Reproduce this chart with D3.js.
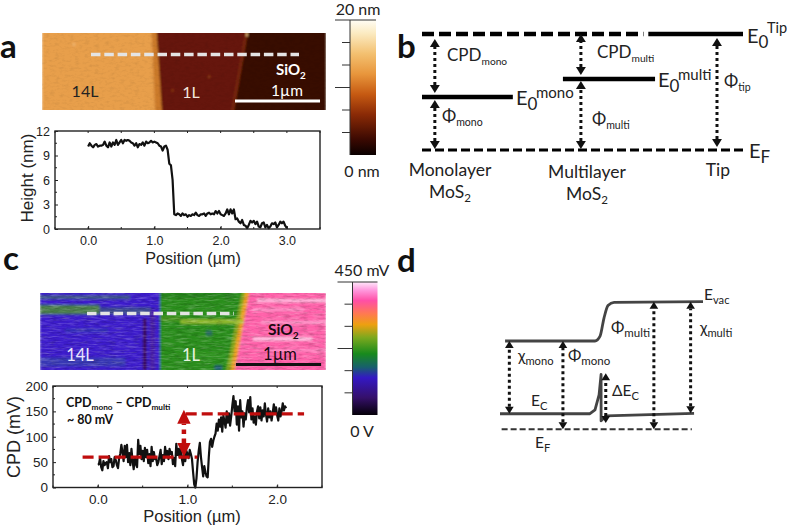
<!DOCTYPE html>
<html>
<head>
<meta charset="utf-8">
<script src="https://cdn.jsdelivr.net/npm/d3@7"></script>
<style>
  html, body { margin: 0; padding: 0; background: #fff; }
  svg { display: block; }
  text { fill: #222; }
</style>
</head>
<body>
<div id="chart"></div>
<script>
// height profile, panel a (nm), 0 to 3 um
const heightValues = [10.1,10.5,10.2,10.0,10.3,10.4,10.1,10.2,10.2,10.3,10.7,10.2,10.0,10.6,10.1,10.6,10.3,10.9,10.3,10.6,
  10.9,10.5,10.9,10.8,10.9,10.8,10.6,10.5,10.2,10.5,10.0,10.4,10.3,10.6,10.2,10.7,10.5,10.6,10.8,10.6,
  10.7,10.6,10.5,10.2,10.1,9.6,10.1,10.2,9.7,8.0,7.8,6.0,
  1.8,1.7,1.9,1.8,1.6,1.9,1.7,1.8,1.5,1.7,1.6,1.8,1.7,2.0,1.7,1.6,1.8,1.8,1.9,1.6,
  1.9,2.0,1.8,1.9,1.8,2.2,1.9,2.2,1.8,1.7,1.6,1.9,2.4,1.8,2.4,1.9,2.4,
  1.2,1.3,0.9,0.7,1.1,0.5,0.4,0.1,0.5,1.0,0.8,1.0,0.6,0.9,0.3,0.2,0.7,0.8,0.2,0.5,
  0.1,0.3,0.7,0.6,0.8,0.2,0.5,0.9,0.7,0.9,0.4,0.1];

// CPD profile, panel c (mV), 0 to 2.1 um
const cpdValues = [45,46,58,40,34,52,44,48,50,38,62,50,56,40,42,60,54,44,38,58,
  66,84,70,52,82,60,84,50,68,44,76,52,36,60,46,40,94,66,82,56,
  72,52,78,60,74,48,66,42,80,52,70,56,58,44,50,62,74,46,64,52,
  80,62,72,56,76,66,70,46,58,42,86,64,76,60,78,56,44,68,52,72,
  66,58,74,66,56,30,6,0,18,50,72,88,60,40,22,42,30,22,20,60,
  90,96,80,92,100,106,126,112,134,120,138,110,142,130,118,150,128,146,122,140,
  162,180,150,170,124,160,112,172,138,150,120,146,134,158,172,148,178,134,156,128,
  140,124,150,160,136,158,132,152,140,166,144,130,156,138,150,132,146,164,148,158,
  142,132,156,140,150,166,152,160,156];

const heightTicks = [0, 3, 6, 9, 12];
const cpdTicks = [0, 50, 100, 150, 200];
const positionTicksA = [0, 1, 2, 3];
const positionTicksC = [0, 1, 2];

// red guide lines of panel c: [from um, to um, mV]
const cpdGuides = [[-0.17, 1.11, 60], [0.98, 2.3, 145]];
const cpdArrow = { at: 0.96, from: 60, to: 153 };

// colour bars, bottom to top
const heightStops = [[0, "#0a0000"], [0.12, "#3d0a02"], [0.3, "#8a2a06"], [0.45, "#c65a12"], [0.6, "#e8963c"], [0.75, "#f3c070"], [0.9, "#fbeac0"], [1, "#fffdf5"]];
const cpdStops = [[0, "#050008"], [0.13, "#35106a"], [0.28, "#3418c4"], [0.36, "#17606c"], [0.46, "#178a1c"], [0.58, "#7aa81e"], [0.68, "#eda010"], [0.76, "#ff7a50"], [0.86, "#ff4fa6"], [0.94, "#ff9ade"], [1, "#ffe8fb"]];
const barTickFractions = [0, 1/6, 2/6, 3/6, 4/6, 5/6, 1];

// map regions in um from the map's top left corner: [left top, left bottom, right top, right bottom, colour]
const mapARegions = [
  [0, 0, 3.34, 3.34, "#e89f4c"],
  [1.29, 1.33, 3.34, 3.34, "#cb7a2c"],
  [1.35, 1.41, 3.34, 3.34, "#661808"],
  [2.39, 2.23, 3.34, 3.34, "#7c2a0c"],
  [2.42, 2.26, 3.34, 3.34, "#380802"]
];
const mapCRegions = [
  [0, 0, 3.36, 3.36, "#3c1ecc"],
  [1.41, 1.41, 3.36, 3.36, "#2c8e1c"],
  [2.37, 2.19, 3.36, 3.36, "#8aa81c"],
  [2.41, 2.24, 3.36, 3.36, "#f0a028"],
  [2.46, 2.29, 3.36, 3.36, "#ff62aa"]
];
// streaks and specks: [x0, x1, y0, y1, colour, opacity] in um
const mapAStreaks = [
  [2.4, 2.42, 0.0, 0.04, "#ffd890", 0.95],
  [0.36, 0.39, 0.12, 0.15, "#f4c080", 0.8],
  [1.95, 1.98, 0.5, 0.53, "#a04a20", 0.7],
  [1.52, 1.55, 0.66, 0.69, "#a04a20", 0.6]
];
const mapCStreaks = [
  [0, 1.06, 0.03, 0.07, "#3f8a46", 0.55],
  [0, 0.7, 0.14, 0.25, "#4c8e30", 0.85],
  [0.7, 1.3, 0.17, 0.25, "#3f7a58", 0.5],
  [0, 1.0, 0.76, 0.86, "#2e6a8a", 0.35],
  [0.3, 0.8, 0.42, 0.46, "#2a4aa0", 0.4],
  [1.21, 1.25, 0.3, 0.91, "#3c0a4a", 0.9],
  [1.29, 1.35, 0.2, 0.91, "#4a1a8a", 0.6],
  [1.65, 2.39, 0.31, 0.36, "#a8c434", 0.85],
  [1.41, 2.3, 0.0, 0.06, "#24781e", 0.5],
  [1.41, 1.65, 0.28, 0.33, "#6aa428", 0.5],
  [1.95, 2.02, 0.44, 0.5, "#2a50a0", 0.55],
  [1.6, 2.2, 0.7, 0.76, "#3aa02a", 0.5],
  [2.05, 2.14, 0.85, 0.91, "#2040b0", 0.6],
  [2.55, 3.36, 0.07, 0.11, "#ffd6ee", 0.7],
  [2.5, 3.1, 0.18, 0.21, "#ffb8e0", 0.6],
  [2.6, 3.36, 0.33, 0.36, "#ffc8e8", 0.6],
  [2.5, 3.2, 0.52, 0.56, "#ffe0f4", 0.75],
  [2.7, 3.36, 0.66, 0.69, "#ffb0dc", 0.5]
];

// energy diagrams: positions are fractions of the panel width, e is 0 at EF, 1 at the top level
const levelsB = [
  { x0: 0, x1: 0.69, e: 1, w: 4.5, dash: "12,5" },
  { x0: 0.705, x1: 1, e: 1, w: 4.5 },
  { x0: 0, x1: 1, e: 0, w: 3.2, dash: "9,4" },
  { x0: 0, x1: 0.283, e: 0.457, w: 4.5 },
  { x0: 0.439, x1: 0.726, e: 0.612, w: 4.5 }
];
const arrowsB = [[0.04, 0.491, 0.957], [0.04, 0.009, 0.431], [0.495, 0.647, 1], [0.495, 0.009, 0.595], [0.919, 0.026, 0.966]];

const vacuumCurve = [[0.025, 0.692], [0.468, 0.692], [0.493, 0.73], [0.512, 0.87], [0.532, 0.97], [0.562, 0.995], [1, 1]];
const conductionCurve = [[0, 0.122], [0.443, 0.122], [0.468, 0.152], [0.488, 0.27], [0.498, 0.43], [0.498, 0.066], [0.522, 0.105], [0.956, 0.125]];
const fermiLevelD = [[0.008, 0], [0.945, 0]];
const arrowsD = [[0.046, 0.122, 0.692], [0.31, 0, 0.692], [0.758, 0, 1], [0.939, 0.125, 1], [0.521, 0.05, 0.44]];

const W = 787, H = 526;
const sansFont = "Lato, 'Noto Sans', sans-serif";
const axisFont = "'Liberation Sans', Arial, sans-serif";

const svg = d3.select("#chart").append("svg").attr("width", W).attr("height", H);
const defs = svg.append("defs");

defs.append("filter").attr("id", "soft").attr("x", "-2%").attr("y", "-2%").attr("width", "104%").attr("height", "104%")
  .append("feGaussianBlur").attr("stdDeviation", 0.9);

// grainy streak overlay for the maps, c is 1 for white grain and 0 for black
function grainFilter(id, freq, alpha, c, seed) {
  const f = defs.append("filter").attr("id", id).attr("x", 0).attr("y", 0).attr("width", "100%").attr("height", "100%");
  f.append("feTurbulence").attr("type", "fractalNoise").attr("baseFrequency", freq).attr("numOctaves", 3).attr("seed", seed);
  f.append("feColorMatrix").attr("values", `0 0 0 0 ${c}  0 0 0 0 ${c}  0 0 0 0 ${c}  ${alpha} 0 0 0 ${-alpha * 0.45}`);
  f.append("feGaussianBlur").attr("stdDeviation", 0.5);
}
grainFilter("grainA", "0.2 0.4", 1.4, 0, 4);
grainFilter("grainC1", "0.08 0.6", 2.2, 1, 7);
grainFilter("grainC0", "0.12 0.5", 2.2, 0, 11);

// text with sub and superscripts, parts are [string, "sub"|"sup"|undefined]
function richText(x, y, parts, size, opts = {}) {
  const t = svg.append("text").attr("x", x).attr("y", y)
    .attr("font-family", opts.font || sansFont)
    .attr("font-size", size)
    .attr("font-weight", opts.bold ? 700 : 400)
    .attr("text-anchor", opts.anchor || "start")
    .style("fill", opts.fill || "#222");
  let shift = 0;
  parts.forEach(p => {
    const s = typeof p === "string" ? [p] : p;
    const next = s[1] === "sub" ? size * 0.25 : s[1] === "sup" ? -size * 0.42 : 0;
    t.append("tspan").attr("dy", next - shift)
      .attr("font-size", s[1] === "sup" ? size * (opts.supScale || 0.85) : s[1] === "sub" ? size * (opts.subScale || 0.66) : size)
      .text(s[0]);
    shift = next;
  });
  return t;
}

function drawMap(name, box, regions, streaks, grains, span, bar, dash) {
  const x = d3.scaleLinear().domain([0, span]).range([box.x, box.x + box.w]);
  const y = d3.scaleLinear().domain([0, span]).range([box.y, box.y + box.w]);
  const id = "clip" + name;
  defs.append("clipPath").attr("id", id).append("rect")
    .attr("x", box.x).attr("y", box.y).attr("width", box.w).attr("height", box.h);
  const g = svg.append("g").attr("clip-path", `url(#${id})`);
  const inner = g.append("g").attr("filter", "url(#soft)");
  const bottom = y.invert(box.y + box.h);
  inner.selectAll("path").data(regions).enter().append("path")
    .attr("fill", d => d[4])
    .attr("d", d => {
      const at = t => d[0] + (d[1] - d[0]) * (t / bottom);
      return d3.line()([[x(at(-0.1)), y(-0.1)], [x(d[2]), y(-0.1)], [x(d[3]), y(bottom + 0.1)], [x(at(bottom + 0.1)), y(bottom + 0.1)]]) + "Z";
    });
  inner.selectAll("rect").data(streaks).enter().append("rect")
    .attr("x", d => x(d[0])).attr("width", d => x(d[1]) - x(d[0]))
    .attr("y", d => y(d[2])).attr("height", d => y(d[3]) - y(d[2]))
    .attr("fill", d => d[4]).attr("opacity", d => d[5]);
  grains.forEach(gr => {
    g.append("rect").attr("x", box.x).attr("y", box.y).attr("width", box.w).attr("height", box.h)
      .attr("filter", `url(#${gr[0]})`).attr("opacity", gr[1]);
  });
  // scale bar and profile line
  svg.append("line").attr("x1", bar.x0).attr("x2", bar.x0 + x(1) - x(0)).attr("y1", bar.y).attr("y2", bar.y)
    .attr("stroke", bar.color).attr("stroke-width", 3);
  svg.append("line").attr("x1", dash.x0).attr("x2", dash.x1).attr("y1", dash.y).attr("y2", dash.y)
    .attr("stroke", "#e4e4e4").attr("stroke-width", 3.5).attr("stroke-dasharray", "9.5,3.8");
}

function drawColorBar(id, box, stops) {
  const grad = defs.append("linearGradient").attr("id", id)
    .attr("x1", 0).attr("x2", 0).attr("y1", 1).attr("y2", 0);
  grad.selectAll("stop").data(stops).enter().append("stop")
    .attr("offset", d => d[0]).attr("stop-color", d => d[1]);
  svg.append("rect").attr("x", box.x).attr("y", box.y).attr("width", box.w).attr("height", box.h)
    .attr("fill", `url(#${id})`);
  const y = d3.scaleLinear().domain([0, 1]).range([box.y + box.h, box.y]);
  svg.append("g").selectAll("line").data(barTickFractions).enter().append("line")
    .attr("x1", d => box.x - (d === 0.5 ? 15 : d === 1 ? 15 : d === 0 ? 0 : 8))
    .attr("x2", d => d === 1 ? box.x + box.w : box.x)
    .attr("y1", d => y(d)).attr("y2", d => y(d))
    .attr("stroke", "#333").attr("stroke-width", 1);
  svg.append("line").attr("x1", box.x).attr("x2", box.x).attr("y1", box.y).attr("y2", box.y + box.h)
    .attr("stroke", "#333").attr("stroke-width", 1);
}

function drawProfile(box, xDomain, yDomain, xTicks, yTicks, values, spanUm, font, xLabel, yLabel) {
  const x = d3.scaleLinear().domain(xDomain).range([box.x, box.x + box.w]);
  const y = d3.scaleLinear().domain(yDomain).range([box.y + box.h, box.y]);
  const pos = d3.scaleLinear().domain([0, values.length - 1]).range([0, spanUm]);

  const minorX = d3.range(xDomain[0], xDomain[1] + 0.01, 0.5);
  const minorY = yTicks.slice(0, -1).map((t, i) => (t + yTicks[i + 1]) / 2);

  const g = svg.append("g");
  g.append("g").attr("transform", `translate(0,${box.y + box.h})`)
    .call(d3.axisBottom(x).tickValues(xTicks).tickSize(-3).tickPadding(7));
  g.append("g").attr("transform", `translate(${box.x},0)`)
    .call(d3.axisLeft(y).tickValues(yTicks).tickSize(-3).tickPadding(5));
  g.selectAll("text").style("font-family", axisFont).style("font-size", font + "px").style("fill", "#222");
  g.selectAll(".domain").remove();
  g.selectAll(".tick line").attr("stroke", "#222");

  g.selectAll("line.mx").data(minorX).enter().append("line").attr("class", "mx")
    .attr("x1", d => x(d)).attr("x2", d => x(d))
    .attr("y1", box.y + box.h).attr("y2", box.y + box.h - 2).attr("stroke", "#222");
  g.selectAll("line.tx").data(minorX).enter().append("line").attr("class", "tx")
    .attr("x1", d => x(d)).attr("x2", d => x(d))
    .attr("y1", box.y).attr("y2", box.y + 2).attr("stroke", "#222");
  g.selectAll("line.my").data(minorY).enter().append("line").attr("class", "my")
    .attr("x1", box.x).attr("x2", box.x + 2)
    .attr("y1", d => y(d)).attr("y2", d => y(d)).attr("stroke", "#222");

  g.append("path").datum(values).attr("fill", "none").attr("stroke", "#111").attr("stroke-width", 2.2)
    .attr("stroke-linejoin", "round")
    .attr("d", d3.line().x((d, i) => x(pos(i))).y(d => y(d)));

  g.append("rect").attr("x", box.x).attr("y", box.y).attr("width", box.w).attr("height", box.h)
    .attr("fill", "none").attr("stroke", "#222").attr("stroke-width", 1.4);

  svg.append("text").attr("x", xLabel.x).attr("y", xLabel.y).attr("text-anchor", "middle")
    .attr("font-family", axisFont).attr("font-size", xLabel.size).style("fill", "#222").text("Position (\u00b5m)");
  svg.append("text").attr("transform", `translate(${yLabel.x},${yLabel.y}) rotate(-90)`).attr("text-anchor", "middle")
    .attr("font-family", axisFont).attr("font-size", yLabel.size).style("fill", "#222").text(yLabel.text);
  return { x, y };
}

// dotted double arrow between two energies
function energyArrow(ctx, xv, e0, e1, color, w, head, ratio = 0.62) {
  const X = ctx.x(xv), Y0 = ctx.y(e0), Y1 = ctx.y(e1);
  svg.append("line").attr("x1", X).attr("x2", X).attr("y1", Y0 - head).attr("y2", Y1 + head)
    .attr("stroke", color).attr("stroke-width", w).attr("stroke-dasharray", `${w},${w}`);
  const tri = (ty, dir) => svg.append("path").attr("fill", color)
    .attr("d", d3.line()([[X, ty], [X - head * ratio, ty - dir * head], [X + head * ratio, ty - dir * head]]) + "Z");
  tri(Y0, 1);
  tri(Y1, -1);
}

/* ---------- panel a ---------- */
drawMap("A", { x: 42, y: 33, w: 284, h: 77 }, mapARegions, mapAStreaks, [["grainA", 0.1]], 3.34,
  { x0: 235, y: 101, color: "#fff" }, { x0: 91, x1: 299, y: 54.5 });
richText(85, 97, ["14L"], 16, { anchor: "middle", fill: "#222" });
richText(191, 98, ["1L"], 16, { anchor: "middle", fill: "#f2e6dc" });
richText(276, 75, ["SiO", ["2", "sub"]], 15, { bold: true, fill: "#fff" });
richText(287, 96, ["1\u00b5m"], 15.5, { anchor: "middle", fill: "#fff" });

drawColorBar("barA", { x: 350, y: 20, w: 26, h: 135 }, heightStops);
richText(358, 15, ["20 nm"], 16, { anchor: "middle" });
richText(362, 177, ["0 nm"], 16, { anchor: "middle" });

drawProfile({ x: 55, y: 131, w: 265, h: 98 }, [-0.5, 3.5], [0, 12], positionTicksA, heightTicks, heightValues, 3, 12.5,
  { x: 193, y: 264, size: 16.2 }, { x: 33, y: 178, size: 17, text: "Height (nm)" });

/* ---------- panel c ---------- */
drawMap("C", { x: 40, y: 293, w: 286, h: 77 }, mapCRegions, mapCStreaks, [["grainC1", 0.26], ["grainC0", 0.18]], 3.36,
  { x0: 236, y: 364.5, color: "#111" }, { x0: 87, x1: 234, y: 313.5 });
richText(80, 361, ["14L"], 16.5, { anchor: "middle", fill: "#e8e4ff" });
richText(191, 361, ["1L"], 16.5, { anchor: "middle", fill: "#e8f4e0" });
richText(268, 335, ["SiO", ["2", "sub"]], 15.5, { bold: true, fill: "#1a0a10" });
richText(280, 360, ["1\u00b5m"], 16.5, { anchor: "middle", fill: "#1a0a10" });

drawColorBar("barC", { x: 352.5, y: 282, w: 25, h: 133 }, cpdStops);
richText(362, 276, ["450 mV"], 16, { anchor: "middle" });
richText(362, 437, ["0 V"], 16, { anchor: "middle" });

const cpd = drawProfile({ x: 53, y: 386, w: 269, h: 101.5 }, [-0.5, 2.5], [0, 200], positionTicksC, cpdTicks, cpdValues, 2.1, 13.5,
  { x: 192, y: 522, size: 16.5 }, { x: 20, y: 437, size: 18, text: "CPD (mV)" });

const red = "#c00d0d";
svg.append("g").selectAll("line").data(cpdGuides).enter().append("line")
  .attr("x1", d => cpd.x(d[0])).attr("x2", d => cpd.x(d[1]))
  .attr("y1", d => cpd.y(d[2])).attr("y2", d => cpd.y(d[2]))
  .attr("stroke", red).attr("stroke-width", 3.2).attr("stroke-dasharray", "11,5");
energyArrow(cpd, cpdArrow.at, cpdArrow.from, cpdArrow.to, red, 4.5, 14, 0.48);
richText(66, 407, ["CPD", ["mono", "sub"], " \u2013 CPD", ["multi", "sub"]], 12.5, { bold: true, fill: "#111" });
richText(67, 424, ["~ 80 mV"], 12.5, { bold: true, fill: "#111" });

/* ---------- panel b ---------- */
const ctxB = {
  x: d3.scaleLinear().domain([0, 1]).range([422, 743]),
  y: d3.scaleLinear().domain([0, 1]).range([150, 34])
};
svg.append("g").selectAll("line").data(levelsB).enter().append("line")
  .attr("x1", d => ctxB.x(d.x0)).attr("x2", d => ctxB.x(d.x1))
  .attr("y1", d => ctxB.y(d.e)).attr("y2", d => ctxB.y(d.e))
  .attr("stroke", "#000").attr("stroke-width", d => d.w).attr("stroke-dasharray", d => d.dash || null);
arrowsB.forEach(a => energyArrow(ctxB, a[0], a[1], a[2], "#111", 3, 8));

const E0Size = 20;
richText(747, 43, ["E", ["0", "sub"]], E0Size, { subScale: 0.85 });
richText(767, 33, ["Tip"], 14.5);
richText(516, 105, ["E", ["0", "sub"]], E0Size, { subScale: 0.85 });
richText(536, 98, ["mono"], 15);
richText(658, 87, ["E", ["0", "sub"]], E0Size, { subScale: 0.85 });
richText(678, 80, ["multi"], 15);
richText(749, 158, ["E", ["F", "sub"]], E0Size, { subScale: 0.85 });
richText(447, 61, ["CPD", ["mono", "sub"]], 17, { subScale: 0.6 });
richText(597, 58, ["CPD", ["multi", "sub"]], 17, { subScale: 0.6 });
richText(442, 122, ["\u03a6", ["mono", "sub"]], 17, { subScale: 0.62 });
richText(592, 125, ["\u03a6", ["multi", "sub"]], 17, { subScale: 0.62 });
richText(724, 87, ["\u03a6", ["tip", "sub"]], 17, { subScale: 0.62 });
richText(450, 176, ["Monolayer"], 17.5, { anchor: "middle" });
richText(450, 198, ["MoS", ["2", "sub"]], 17.5, { anchor: "middle" });
richText(587, 178, ["Multilayer"], 17.5, { anchor: "middle" });
richText(587, 200, ["MoS", ["2", "sub"]], 17.5, { anchor: "middle" });
richText(718, 176, ["Tip"], 17.5, { anchor: "middle" });

/* ---------- panel d ---------- */
const ctxD = {
  x: d3.scaleLinear().domain([0, 1]).range([500, 703]),
  y: d3.scaleLinear().domain([0, 1]).range([429.3, 301.7])
};
const lineD = d3.line().x(d => ctxD.x(d[0])).y(d => ctxD.y(d[1]));
svg.append("path").attr("d", lineD.curve(d3.curveMonotoneX)(vacuumCurve))
  .attr("fill", "none").attr("stroke", "#444").attr("stroke-width", 2.8);
svg.append("path").attr("d", lineD.curve(d3.curveLinear)(conductionCurve))
  .attr("fill", "none").attr("stroke", "#444").attr("stroke-width", 2.8).attr("stroke-linejoin", "round");
svg.append("path").attr("d", lineD(fermiLevelD))
  .attr("fill", "none").attr("stroke", "#333").attr("stroke-width", 2).attr("stroke-dasharray", "6,3");
arrowsD.forEach(a => energyArrow(ctxD, a[0], a[1], a[2], "#111", 3, 7));

richText(704, 300, ["E", ["vac", "sub"]], 15.5, { subScale: 0.72 });
richText(700, 333, ["\u03c7", ["multi", "sub"]], 15.5, { subScale: 0.72 });
richText(611, 333, ["\u03a6", ["multi", "sub"]], 16, { subScale: 0.72 });
richText(518, 361, ["\u03c7", ["mono", "sub"]], 15.5, { subScale: 0.72 });
richText(568, 361, ["\u03a6", ["mono", "sub"]], 16, { subScale: 0.72 });
richText(612, 396, ["\u0394E", ["C", "sub"]], 15.5, { subScale: 0.72 });
richText(531, 406, ["E", ["C", "sub"]], 15.5, { subScale: 0.72 });
richText(535, 448, ["E", ["F", "sub"]], 15.5, { subScale: 0.72 });

/* ---------- panel letters ---------- */
[["a", 0, 58], ["b", 397, 58], ["c", 3, 270], ["d", 397, 272]].forEach(l => {
  richText(l[1], l[2], [l[0]], 33, { bold: true, fill: "#111" });
});
</script>
</body>
</html>
